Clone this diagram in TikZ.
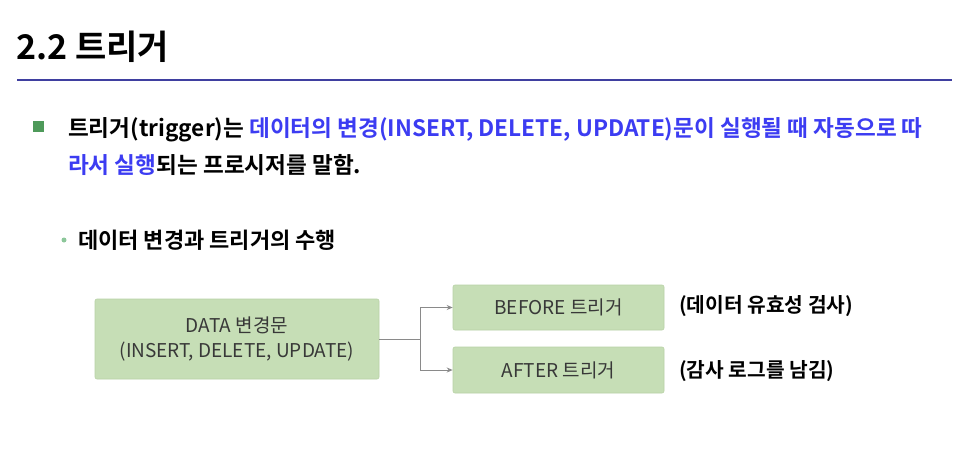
\documentclass[tikz,border=0pt]{standalone}
\usepackage{fontspec}
\newfontfamily\kr{Noto Sans CJK KR}
\newfontfamily\krb{Noto Sans CJK KR Bold}
\usetikzlibrary{arrows.meta}
\definecolor{hblue}{HTML}{3F3FA0}
\definecolor{tblue}{HTML}{3C3CF2}
\definecolor{bgreen}{HTML}{4E9A5A}
\definecolor{lgreen}{HTML}{8CC79A}
\definecolor{boxfill}{HTML}{C6DEB6}
\definecolor{boxline}{HTML}{B8D2A6}
\definecolor{boxtext}{HTML}{383838}
\definecolor{conn}{HTML}{8A8A8A}
\tikzset{
  gbox/.style={draw=boxline, line width=0.6pt, fill=boxfill, rounded corners=2pt, inner sep=0pt, text=boxtext, font=\kr\fontsize{19}{25}\selectfont, align=center},
  conline/.style={draw=conn, line width=1pt},
  conarrow/.style={conline, -{Stealth[length=6pt,width=5pt]}},
  bodytext/.style={anchor=base west, inner sep=0pt, font=\krb\fontsize{22.6}{27}\selectfont},
  note/.style={anchor=west, inner sep=0pt, font=\krb\fontsize{20.3}{24}\selectfont}
}
\begin{document}
\begin{tikzpicture}[x=1pt,y=-1pt]
\useasboundingbox (0,0) rectangle (973,453);
\fill[white] (0,0) rectangle (973,453);
% title
\node[anchor=base west, inner sep=0pt, font=\krb\fontsize{34}{38}\selectfont] (title) at (16,59) {2.2 트리거};
\draw[hblue, line width=2pt] (17,80) coordinate (rl) -- (952,80) coordinate (rr);
% bullet 1
\node[fill=bgreen, minimum size=11pt, inner sep=0pt] (sq) at (38.5,126) {};
\node[bodytext] (l1) at (68,136) {트리거(trigger)는 \textcolor{tblue}{데이터의 변경(INSERT, DELETE, UPDATE)문이 실행될 때 자동으로 따}};
\node[bodytext] (l2) at (68,173) {\textcolor{tblue}{라서 실행}되는 프로시저를 말함.};
% sub bullet
\node[circle, fill=lgreen, minimum size=5pt, inner sep=0pt] (dot) at (64,240) {};
\node[bodytext, font=\krb\fontsize{22}{26}\selectfont] (l3) at (78,248) {데이터 변경과 트리거의 수행};
% boxes
\node[gbox, minimum width=284pt, minimum height=80pt] (main) at (237,339) {DATA 변경문\\(INSERT, DELETE, UPDATE)};
\node[gbox, minimum width=211pt, minimum height=45pt] (before) at (558.5,307.5) {BEFORE 트리거};
\node[gbox, minimum width=211pt, minimum height=46pt] (after) at (558.5,370) {AFTER 트리거};
\coordinate (j) at (420,339);
\draw[conline] (main.east) -- (j);
\draw[conarrow] (j) |- (before.west);
\draw[conarrow] (j) |- (after.west);
% notes
\node[note] (n1) at (679,306) {(데이터 유효성 검사)};
\node[note] (n2) at (679,371) {(감사 로그를 남김)};
\end{tikzpicture}
\end{document}
